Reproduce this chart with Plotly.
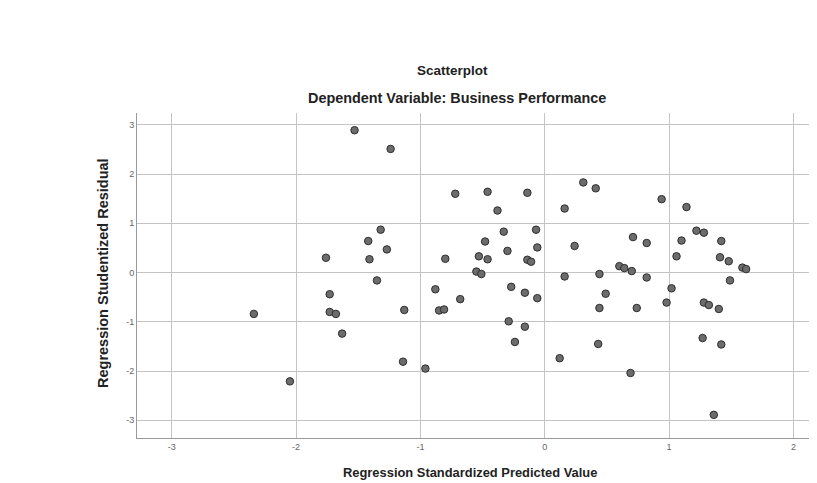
import plotly.graph_objects as go

pred = [-1.53, -1.24, -1.32, -1.42, -1.27, -1.76, -1.41, -0.72, -0.46, -0.14,
        -0.38, 0.31, 0.41, 0.16, -0.33, -0.07, -0.48, -0.30, -0.06, -0.80,
        -0.53, -0.46, -0.14, -0.11, 0.24, 0.71, -0.55, -0.51, 0.16, 0.44,
        0.60, 0.64, 0.70, 0.94, 1.14, 1.22, 1.28, 1.10, 1.42, 0.82,
        1.06, 1.41, 1.48, 1.59, 1.62, 0.82, -1.35, -1.73, -1.73, -1.68,
        -2.34, -1.13, -1.63, -1.14, -0.96, -2.05, -0.88, -0.68, -0.85, -0.81,
        -0.27, -0.16, -0.06, -0.29, -0.16, -0.24, 0.49, 0.44, 0.43, 0.12,
        0.69, 1.02, 0.98, 0.74, 1.28, 1.32, 1.40, 1.49, 1.27, 1.42, 1.36]
resid = [2.89, 2.51, 0.87, 0.64, 0.47, 0.30, 0.27, 1.60, 1.64, 1.62,
         1.26, 1.83, 1.71, 1.30, 0.83, 0.87, 0.63, 0.44, 0.51, 0.28,
         0.33, 0.27, 0.26, 0.22, 0.54, 0.72, 0.02, -0.03, -0.08, -0.03,
         0.13, 0.09, 0.03, 1.49, 1.33, 0.85, 0.81, 0.65, 0.64, 0.60,
         0.33, 0.31, 0.23, 0.10, 0.07, -0.10, -0.16, -0.44, -0.80, -0.84,
         -0.84, -0.76, -1.24, -1.81, -1.95, -2.21, -0.34, -0.54, -0.77, -0.75,
         -0.29, -0.41, -0.52, -0.99, -1.10, -1.41, -0.43, -0.72, -1.45, -1.74,
         -2.04, -0.32, -0.61, -0.72, -0.61, -0.66, -0.74, -0.16, -1.33, -1.46, -2.89]

x_ticks = [-3, -2, -1, 0, 1, 2]
y_ticks = [-3, -2, -1, 0, 1, 2, 3]

title = "Scatterplot"
subtitle = "Dependent Variable: Business Performance"
x_title = "Regression Standardized Predicted Value"
y_title = "Regression Studentized Residual"

# the page places the figure 8px from the top-left corner
W, H = 809, 475
L, T, B, R = 129, 105, 45, 0
pw, ph = W - L - R, H - T - B


def px_x(x):
    return (x - 8 - L) / pw


def px_y(y):
    return (H - B + 8 - y) / ph


fig = go.Figure()
fig.add_trace(go.Scatter(
    x=pred, y=resid, mode="markers",
    marker=dict(size=7.5, color="#6c6c6c", line=dict(color="#2e2e2e", width=1)),
    hoverinfo="x+y", showlegend=False))

font = "Liberation Sans, Arial, sans-serif"
axis_common = dict(showgrid=True, gridcolor="#c4c4c4", gridwidth=1,
                   zeroline=False, showline=True, linecolor="#9a9a9a", linewidth=1,
                   ticks="", tickfont=dict(family=font, size=9, color="#666666"))

fig.update_layout(
    width=W, height=H,
    margin=dict(l=L, r=R, t=T, b=B, autoexpand=False),
    paper_bgcolor="white", plot_bgcolor="white",
    font=dict(family=font),
    xaxis=dict(range=[-3.28, 2.19], tickvals=x_ticks, ticktext=[str(v) for v in x_ticks],
               **axis_common),
    yaxis=dict(range=[-3.36, 3.24], tickvals=y_ticks, ticktext=[str(v) for v in y_ticks],
               **axis_common),
    annotations=[
        dict(text="<b>" + title + "</b>", x=px_x(452), y=px_y(70), xref="paper", yref="paper",
             showarrow=False, font=dict(family=font, size=13.5, color="#222222"),
             xanchor="center", yanchor="middle"),
        dict(text="<b>" + subtitle + "</b>", x=px_x(457), y=px_y(98), xref="paper", yref="paper",
             showarrow=False, font=dict(family=font, size=14.4, color="#222222"),
             xanchor="center", yanchor="middle"),
        dict(text="<b>" + x_title + "</b>", x=px_x(470), y=px_y(472), xref="paper", yref="paper",
             showarrow=False, font=dict(family=font, size=12.9, color="#222222"),
             xanchor="center", yanchor="middle"),
        dict(text="<b>" + y_title + "</b>", x=px_x(103), y=px_y(273), xref="paper", yref="paper",
             showarrow=False, textangle=-90,
             font=dict(family=font, size=14.5, color="#222222"), xanchor="center", yanchor="middle"),
    ],
)

fig.write_html("out.html")
